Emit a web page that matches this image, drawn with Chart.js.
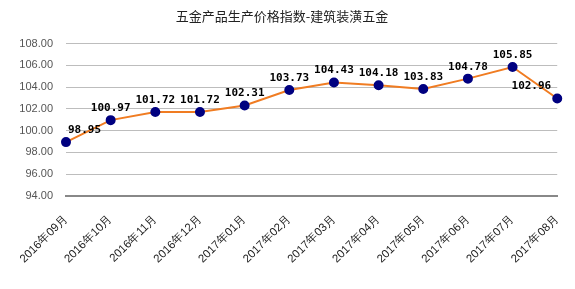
<!DOCTYPE html>
<html>
<head>
<meta charset="utf-8">
<script src="https://cdn.jsdelivr.net/npm/chart.js@4/dist/chart.umd.min.js"></script>
<style>
  html, body { margin: 0; padding: 0; background: #fff; }
  #wrap { width: 575px; height: 289px; }
</style>
</head>
<body>
<div id="wrap"><canvas id="myChart" width="575" height="289"></canvas></div>
<script>
// data
var meses = ['2016年09月', '2016年10月', '2016年11月', '2016年12月', '2017年01月', '2017年02月',
             '2017年03月', '2017年04月', '2017年05月', '2017年06月', '2017年07月', '2017年08月'];
var indice = [98.95, 100.97, 101.72, 101.72, 102.31, 103.73, 104.43, 104.18, 103.83, 104.78, 105.85, 102.96];
var yMin = 94, yMax = 108, yStep = 2;
var titulo = '五金产品生产价格指数-建筑装潢五金';

// value labels above each point, kept inside the plot
var rotulos = {
  id: 'rotulos',
  afterDatasetsDraw: function(chart) {
    var ctx = chart.ctx;
    var area = chart.chartArea;
    var meta = chart.getDatasetMeta(0);
    ctx.save();
    ctx.font = 'bold 11px "DejaVu Sans Mono", monospace';
    ctx.fillStyle = '#000';
    ctx.textBaseline = 'middle';
    ctx.textAlign = 'center';
    meta.data.forEach(function(pt, i) {
      var txt = indice[i].toFixed(2);
      var w = ctx.measureText(txt).width;
      var x = pt.x;
      if (x - w / 2 < area.left) x = area.left + w / 2 + 2;
      if (x + w / 2 > area.right) x = area.right - w / 2 - 6;
      ctx.fillText(txt, x, pt.y - 12);
    });
    ctx.restore();
  }
};

var ctx = document.getElementById('myChart').getContext('2d');
var myChart = new Chart(ctx, {
  type: 'line',
  data: {
    labels: meses,
    datasets: [{
      label: titulo,
      data: indice,
      borderColor: '#F07C22',
      borderWidth: 2,
      tension: 0,
      pointBackgroundColor: '#000080',
      pointBorderColor: '#000080',
      pointRadius: 4,
      pointHoverRadius: 4
    }]
  },
  options: {
    responsive: false,
    animation: false,
    layout: { padding: { left: 0, right: 11, top: 0, bottom: 0 } },
    plugins: {
      legend: { display: false },
      tooltip: { enabled: false },
      title: {
        display: true,
        text: titulo,
        color: '#222',
        font: { family: '"Noto Sans CJK SC", sans-serif', size: 13, weight: 'normal' },
        padding: { top: 8, bottom: 20 }
      }
    },
    scales: {
      x: {
        offset: false,
        grid: { display: false },
        border: { display: true, color: '#888', width: 2 },
        ticks: {
          color: '#222',
          minRotation: 45,
          maxRotation: 45,
          autoSkip: false,
          padding: 8,
          font: { family: '"Liberation Sans", Arial, sans-serif', size: 11.5 }
        },
        afterFit: function(scale) { scale.height = 93; }
      },
      y: {
        min: yMin,
        max: yMax,
        grid: { color: '#BDBDBD', lineWidth: 1, drawTicks: false },
        border: { display: false },
        ticks: {
          stepSize: yStep,
          color: '#555',
          padding: 13,
          font: { family: '"Liberation Sans", Arial, sans-serif', size: 11 },
          callback: function(v) { return Number(v).toFixed(2); }
        },
        afterFit: function(scale) { scale.width = 66; }
      }
    }
  },
  plugins: [rotulos]
});
</script>
</body>
</html>
